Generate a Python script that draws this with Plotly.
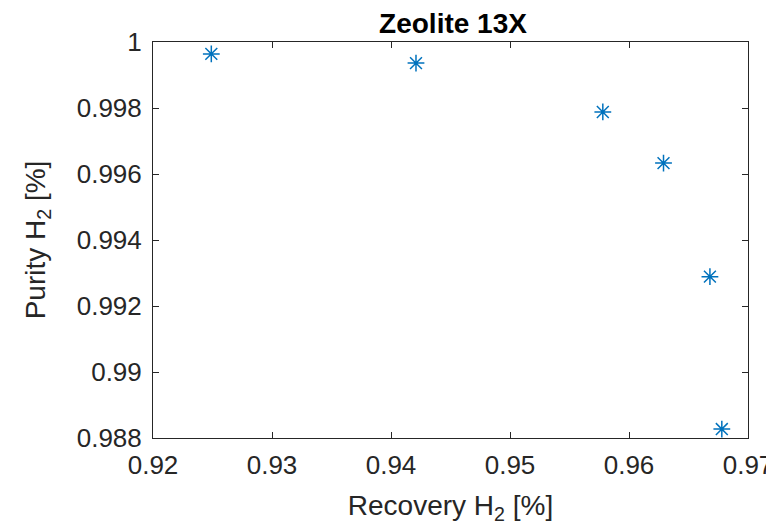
import plotly.graph_objects as go

recovery = [0.9249, 0.9421, 0.9578, 0.9629, 0.9668, 0.9678]
purity = [0.99964, 0.99936, 0.99788, 0.99633, 0.99289, 0.98827]

x_ticks = [0.92, 0.93, 0.94, 0.95, 0.96, 0.97]
x_labels = ["0.92", "0.93", "0.94", "0.95", "0.96", "0.97"]
y_ticks = [0.988, 0.99, 0.992, 0.994, 0.996, 0.998, 1.0]
y_labels = ["0.988", "0.99", "0.992", "0.994", "0.996", "0.998", "1"]

# page body has an 8px margin, so the figure is drawn 8px smaller and offset
W, H = 766, 521

fig = go.Figure()
fig.add_trace(go.Scatter(
    x=recovery, y=purity, mode="markers",
    marker=dict(symbol="asterisk-open", size=14, color="#0072BD",
                line=dict(color="#0072BD", width=1.5)),
))

axis_common = dict(
    showgrid=False, zeroline=False, showline=True, mirror="ticks",
    linecolor="#262626", linewidth=1, ticks="inside", ticklen=6,
    tickcolor="#262626", tickfont=dict(size=26, color="#262626"),
    automargin=False,
)

fig.update_layout(
    width=W, height=H,
    margin=dict(l=145, r=26, t=34, b=91, autoexpand=False),
    plot_bgcolor="white", paper_bgcolor="white",
    font=dict(family="Liberation Sans, Arial, sans-serif", color="#262626"),
    showlegend=False,
    title=dict(text="<b>Zeolite 13X</b>", x=(453 - 8) / W, xanchor="center",
               xref="container", yref="container",
               y=1 - 15 / H, yanchor="middle", automargin=False,
               font=dict(size=28, color="#000000")),
    xaxis=dict(range=[0.92, 0.97], tickvals=x_ticks, ticktext=x_labels,
               ticklabelstandoff=4,
               title=dict(text="Recovery H<sub>2</sub> [%]", font=dict(size=28), standoff=16),
               **axis_common),
    yaxis=dict(range=[0.988, 1.0], tickvals=y_ticks, ticktext=y_labels,
               ticklabelstandoff=5,
               title=dict(text="Purity H<sub>2</sub> [%]", font=dict(size=28), standoff=22),
               **axis_common),
)

fig.write_html("out.html")
